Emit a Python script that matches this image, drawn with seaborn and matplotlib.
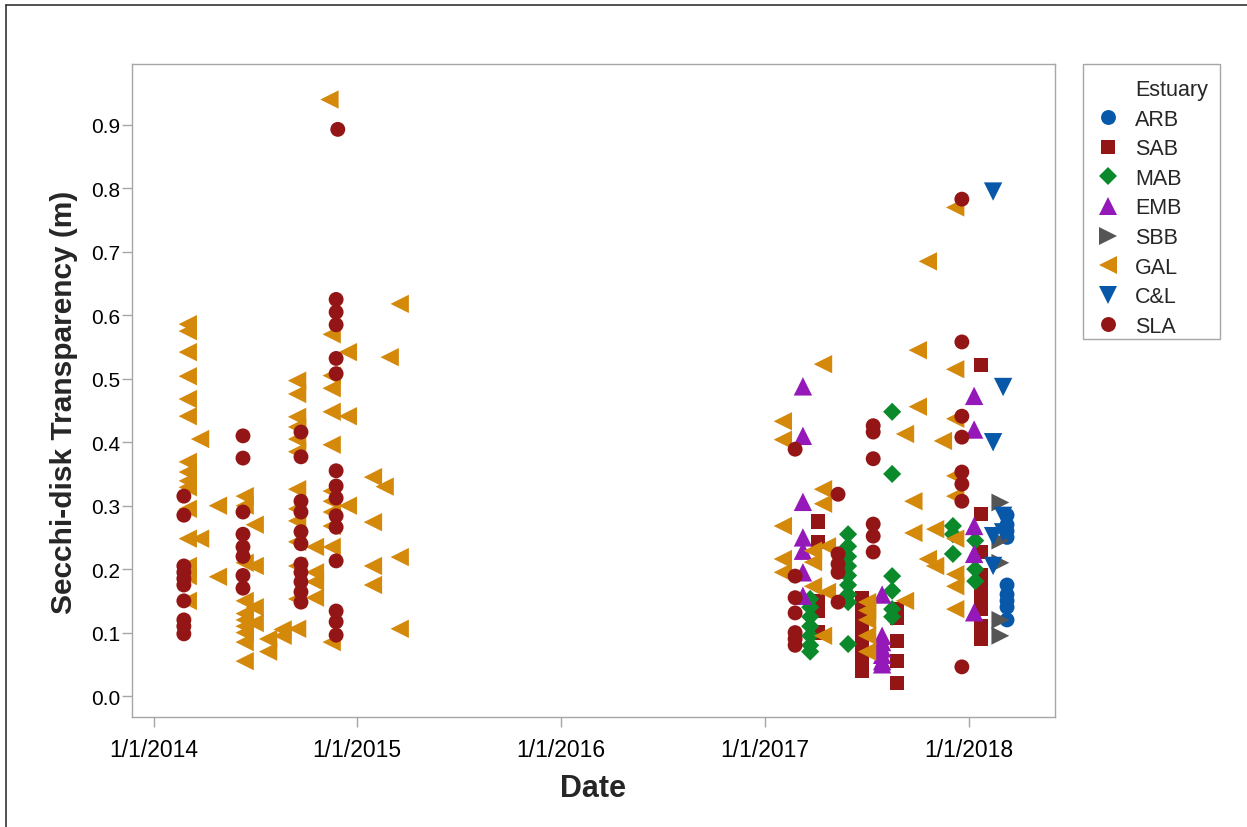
import numpy as np
import pandas as pd
import matplotlib
matplotlib.use("Agg")
import matplotlib.pyplot as plt
from matplotlib.lines import Line2D
from matplotlib.patches import Rectangle
import seaborn as sns

# ---------------- data ----------------
estuaries = ["ARB", "SAB", "MAB", "EMB", "SBB", "GAL", "C&L", "SLA"]

arb_dates = ["2018-03-11"] * 9
arb_vals = [0.285, 0.27, 0.26, 0.25, 0.175, 0.16, 0.15, 0.14, 0.12]

sab_dates = (["2017-04-06"] * 5 + ["2017-06-24"] * 8 + ["2017-08-26"] * 5
             + ["2018-01-24"] * 9)
sab_vals = [0.275, 0.243, 0.15, 0.135, 0.10,
            0.155, 0.14, 0.125, 0.11, 0.095, 0.08, 0.062, 0.04,
            0.137, 0.123, 0.087, 0.055, 0.02,
            0.522, 0.287, 0.227, 0.19, 0.168, 0.15, 0.137, 0.11, 0.09]

mab_dates = (["2017-03-23"] * 7 + ["2017-05-30"] * 9 + ["2017-08-17"] * 6
             + ["2017-12-04"] * 3 + ["2018-01-13"] * 3)
mab_vals = [0.153, 0.14, 0.125, 0.11, 0.095, 0.08, 0.07,
            0.255, 0.236, 0.22, 0.205, 0.19, 0.175, 0.16, 0.148, 0.082,
            0.448, 0.35, 0.189, 0.166, 0.137, 0.125,
            0.268, 0.255, 0.224,
            0.245, 0.20, 0.181]

emb_dates = ["2017-03-10"] * 7 + ["2017-07-30"] * 7 + ["2018-01-11"] * 5
emb_vals = [0.488, 0.41, 0.306, 0.25, 0.229, 0.195, 0.158,
            0.16, 0.095, 0.085, 0.075, 0.065, 0.055, 0.05,
            0.473, 0.42, 0.268, 0.224, 0.132]

sbb_dates = ["2018-02-27"] * 5
sbb_vals = [0.305, 0.245, 0.21, 0.12, 0.095]

gal_dates = (["2014-03-03"] * 15 + ["2014-03-25"] * 2 + ["2014-04-26"] * 2
             + ["2014-06-13"] * 10 + ["2014-07-01"] * 4 + ["2014-07-25"] * 2
             + ["2014-08-20"] * 2 + ["2014-09-15"] * 13 + ["2014-10-17"] * 4
             + ["2014-11-12"] + ["2014-11-16"] * 11 + ["2014-12-15"] * 3
             + ["2015-01-29"] * 4 + ["2015-02-19"] + ["2015-02-28"]
             + ["2015-03-18"] * 3
             + ["2017-02-02"] * 5 + ["2017-03-28"] * 3 + ["2017-04-15"] * 4
             + ["2017-04-22"] * 2 + ["2017-07-03"] * 5 + ["2017-09-09"] * 2
             + ["2017-09-24"] * 2 + ["2017-10-02"] * 2 + ["2017-10-20"] * 2
             + ["2017-11-02"] * 2 + ["2017-11-16"] + ["2017-12-08"] * 9)
gal_vals = [0.586, 0.575, 0.542, 0.504, 0.468, 0.441, 0.369, 0.353, 0.339, 0.329,
            0.295, 0.248, 0.205, 0.189, 0.15,
            0.405, 0.248,
            0.30, 0.188,
            0.315, 0.30, 0.21, 0.15, 0.13, 0.12, 0.11, 0.10, 0.085, 0.055,
            0.27, 0.205, 0.14, 0.115,
            0.09, 0.07,
            0.105, 0.095,
            0.497, 0.476, 0.44, 0.424, 0.405, 0.385, 0.326, 0.295, 0.276, 0.243,
            0.205, 0.153, 0.106,
            0.235, 0.195, 0.18, 0.155,
            0.94,
            0.57, 0.505, 0.485, 0.448, 0.396, 0.323, 0.307, 0.29, 0.268, 0.235, 0.085,
            0.542, 0.441, 0.30,
            0.345, 0.274, 0.205, 0.175,
            0.33,
            0.534,
            0.618, 0.219, 0.106,
            0.433, 0.404, 0.268, 0.216, 0.195,
            0.229, 0.211, 0.173,
            0.523, 0.326, 0.303, 0.095,
            0.236, 0.164,
            0.148, 0.135, 0.12, 0.095, 0.07,
            0.413, 0.15,
            0.307, 0.257,
            0.545, 0.456,
            0.685, 0.216,
            0.263, 0.205,
            0.402,
            0.77, 0.515, 0.437, 0.347, 0.315, 0.248, 0.192, 0.173, 0.137]

cl_dates = ["2018-02-14"] * 4 + ["2018-03-04"] * 3
cl_vals = [0.795, 0.40, 0.252, 0.205, 0.487, 0.284, 0.258]

sla_dates = (["2014-02-24"] * 10 + ["2014-06-10"] * 8 + ["2014-09-22"] * 11
             + ["2014-11-24"] * 14 + ["2014-11-27"]
             + ["2017-02-24"] * 7 + ["2017-05-12"] * 5 + ["2017-07-14"] * 6
             + ["2017-12-20"] * 8)
sla_vals = [0.315, 0.285, 0.205, 0.195, 0.185, 0.175, 0.15, 0.12, 0.11, 0.098,
            0.41, 0.375, 0.29, 0.255, 0.235, 0.22, 0.19, 0.17,
            0.416, 0.377, 0.307, 0.29, 0.259, 0.24, 0.208, 0.195, 0.18, 0.164, 0.148,
            0.625, 0.605, 0.585, 0.532, 0.508, 0.355, 0.331, 0.312, 0.284, 0.266,
            0.213, 0.134, 0.117, 0.096,
            0.893,
            0.389, 0.189, 0.155, 0.131, 0.10, 0.09, 0.08,
            0.318, 0.224, 0.208, 0.195, 0.148,
            0.426, 0.416, 0.374, 0.271, 0.252, 0.227,
            0.783, 0.558, 0.441, 0.408, 0.353, 0.334, 0.307, 0.046]

x_ticks = ["2014-01-01", "2015-01-01", "2016-01-01", "2017-01-01", "2018-01-01"]
x_tick_labels = ["1/1/2014", "1/1/2015", "1/1/2016", "1/1/2017", "1/1/2018"]
y_ticks = [0.0, 0.1, 0.2, 0.3, 0.4, 0.5, 0.6, 0.7, 0.8, 0.9]

# ---------------- build table ----------------
series = {
    "ARB": (arb_dates, arb_vals), "SAB": (sab_dates, sab_vals),
    "MAB": (mab_dates, mab_vals), "EMB": (emb_dates, emb_vals),
    "SBB": (sbb_dates, sbb_vals), "GAL": (gal_dates, gal_vals),
    "C&L": (cl_dates, cl_vals), "SLA": (sla_dates, sla_vals),
}
frames = []
for name in estuaries:
    d, v = series[name]
    frames.append(pd.DataFrame({"Date": pd.to_datetime(d), "Secchi": v, "Estuary": name}))
df = pd.concat(frames, ignore_index=True)

palette = {"ARB": "#0758A8", "SAB": "#931515", "MAB": "#0B8A2C", "EMB": "#9419B8",
           "SBB": "#555555", "GAL": "#D4890A", "C&L": "#0758A8", "SLA": "#931515"}
markers = {"ARB": "o", "SAB": "s", "MAB": "D", "EMB": "^", "SBB": ">",
           "GAL": "<", "C&L": "v", "SLA": "o"}
marker_sizes = {"ARB": 115, "SAB": 105, "MAB": 85, "EMB": 175, "SBB": 165,
                "GAL": 175, "C&L": 175, "SLA": 115}

# ---------------- plot ----------------
sns.set_theme(style="white")
plt.rcParams["font.family"] = ["Liberation Sans", "DejaVu Sans"]

W, H = 1247, 828
fig = plt.figure(figsize=(W / 100, H / 100), dpi=100)
ax = fig.add_axes([132 / W, 1 - 718 / H, (1055 - 132) / W, (718 - 65) / H])

sns.scatterplot(data=df, x="Date", y="Secchi", hue="Estuary", style="Estuary",
                size="Estuary", hue_order=estuaries, style_order=estuaries,
                size_order=estuaries, palette=palette, markers=markers,
                sizes=marker_sizes, linewidth=0, alpha=1.0, ax=ax, legend=False)

ax.set_xlim(pd.Timestamp("2013-11-23"), pd.Timestamp("2018-06-05"))
ax.set_ylim(-0.033, 0.996)
ax.set_xticks(pd.to_datetime(x_ticks))
ax.set_xticklabels(x_tick_labels)
ax.set_yticks(y_ticks)
ax.set_yticklabels([f"{t:.1f}" for t in y_ticks])

for sp in ax.spines.values():
    sp.set_color("#A6A6A6")
    sp.set_linewidth(1.0)
ax.tick_params(axis="both", which="major", length=7, width=1, color="#A6A6A6",
               labelcolor="black", direction="out", bottom=True, left=True)
ax.tick_params(axis="y", labelsize=15, pad=1.5)
ax.tick_params(axis="x", labelsize=16.5, pad=8)

ax.set_xlabel("Date", fontsize=22, fontweight="bold", labelpad=8.5)
ax.set_ylabel("Secchi-disk Transparency (m)", fontsize=21.5, fontweight="bold")
ax.yaxis.set_label_coords((78 - 132) / 923, (718 - 402) / 653)

# legend (custom handles matching the scatter markers)
leg_handles = [Line2D([], [], linestyle="none", marker=None)]
for e in estuaries:
    leg_handles.append(Line2D([], [], linestyle="none", marker=markers[e],
                              markersize=np.sqrt(marker_sizes[e]),
                              markerfacecolor=palette[e], markeredgewidth=0))
leg_labels = ["Estuary"] + estuaries
leg = fig.legend(leg_handles, leg_labels, loc="upper left",
                 bbox_to_anchor=(1083 / W, 1 - 66 / H), fontsize=15.5,
                 frameon=False, labelspacing=0.40, handletextpad=0.77,
                 borderpad=0.65, handlelength=1.0, borderaxespad=0)
fig.add_artist(Rectangle((1083 / W, 1 - 340 / H), (1220 - 1083) / W, (340 - 65) / H,
                         transform=fig.transFigure, facecolor="none",
                         edgecolor="#A6A6A6", linewidth=1.0))

# figure border (top and left)
fig.add_artist(Line2D([6 / W, 1.0], [1 - 6 / H, 1 - 6 / H], color="#333333",
                      linewidth=1.2, transform=fig.transFigure))
fig.add_artist(Line2D([6 / W, 6 / W], [0.0, 1 - 6 / H], color="#333333",
                      linewidth=1.2, transform=fig.transFigure))

fig.savefig("out.png", dpi=100, facecolor="white")
